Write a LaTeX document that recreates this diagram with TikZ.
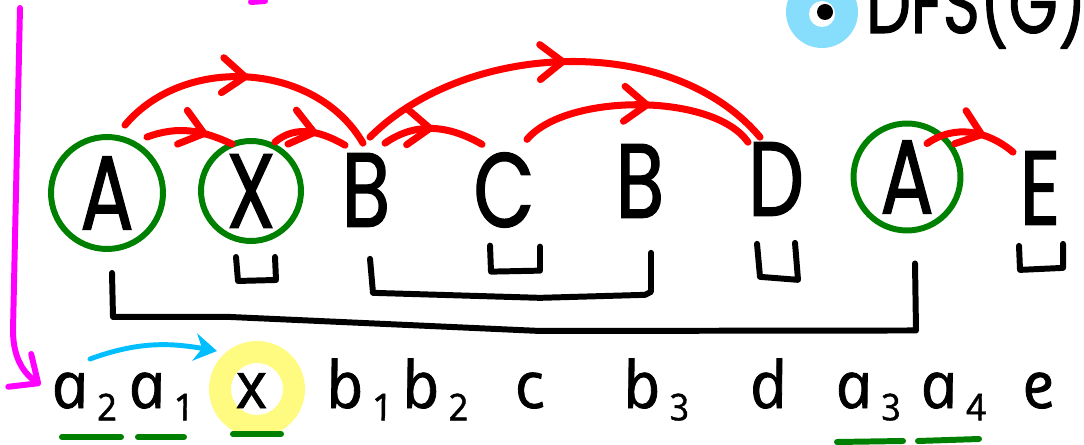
\documentclass[tikz,border=0pt]{standalone}
\usepackage{fontspec}
\newfontfamily\handcaps{Poppins}[FakeStretch=0.75, FakeBold=1.2]
\newfontfamily\handlow{Open Sans}[ItalicFeatures={FakeSlant=-0.2, FakeBold=1.2}]
\usepackage{tikz}
\usetikzlibrary{arrows.meta, decorations.markings}

\definecolor{rosso}{RGB}{255,0,0}
\definecolor{verde}{RGB}{0,128,0}
\definecolor{fucsia}{RGB}{255,0,255}
\definecolor{celeste}{RGB}{0,190,255}
\definecolor{azzurro}{RGB}{135,221,252}
\definecolor{giallo}{RGB}{255,250,128}

\newcommand{\capfont}{\handcaps\fontsize{60}{60}\selectfont}
\newcommand{\lowfont}{\handlow\itshape\fontsize{37}{37}\selectfont}
\newcommand{\pedice}[1]{\kern4pt\raisebox{-7pt}{\fontsize{21}{21}\selectfont #1}}

\begin{document}
\begin{tikzpicture}[x=0.02cm, y=-0.02cm,
  lettera/.style={font=\capfont, inner sep=1pt},
  cerchio/.style={lettera, circle, draw=verde, line width=3.4pt, inner sep=0pt, minimum size=#1},
  minuscola/.style={font=\lowfont, inner sep=0pt, anchor=base},
  arco/.style={rosso, line width=4pt, line cap=round, postaction={decorate},
    decoration={markings, mark=at position #1 with {\arrow{Straight Barb[length=4.5mm, width=7mm, round]}}}},
  tratto/.style={line width=3.4pt, line cap=round, line join=round},
  sotto/.style={verde, line width=3.4pt, line cap=round}]
  \useasboundingbox (0,0) rectangle (1084,445);
  \clip (0,0) rectangle (1084,445);

  % DFS
  \fill[azzurro] (822,12) circle (36);
  \fill[white] (822,14) circle (13);
  \fill (825,12) circle (8);
  \node[lettera, font=\handcaps\fontsize{48}{48}\selectfont, anchor=base west] (dfs) at (864,33) {DFS(G)};

  % lettere
  \node[cerchio=2.24cm] (nA1) at (107,193) {A};
  \node[cerchio=2cm] (nX) at (251,191) {X};
  \node[lettera] (nB1) at (366,190) {B};
  \node[lettera] (nC) at (504,190) {C};
  \node[lettera] (nB2) at (640,181) {B};
  \node[lettera] (nD) at (776,179) {D};
  \node[cerchio=2.14cm] (nA2) at (907,177) {A};
  \node[lettera] (nE) at (1040,188) {E};

  % archi
  \draw[arco=0.5] ([shift={(18,-9)}]nA1.north) to[out=50, in=120] ([shift={(-3,-8)}]nB1.north);
  \draw[arco=0.7] ([shift={(40,3)}]nA1.north) to[out=20, in=155] ([shift={(-19,6)}]nX.north);
  \draw[arco=0.6] ([shift={(24,4)}]nX.north) to[out=40, in=150] ([shift={(-21,-6)}]nB1.north);
  \draw[arco=0.5] ([shift={(4,-14)}]nB1.north) to[out=45, in=130, looseness=0.9] ([shift={(-16,-3)}]nD.north);
  \draw[arco=0.5] ([shift={(19,-8)}]nB1.north) to[out=35, in=150] ([shift={(-22,-6)}]nC.north);
  \draw[arco=0.55] ([shift={(23,-11)}]nC.north) to[out=50, in=125, looseness=0.7] ([shift={(-28,2)}]nD.north);
  \draw[arco=0.65] ([shift={(20,23)}]nA2.north) to[out=35, in=140] ([shift={(-27,3)}]nE.north);

  % parentesi
  \draw[tratto] ([shift={(5,21)}]nA1.south) -- ++(1,44) -- ++(117,0) -- ++(310,14)
    -- ([shift={(9,97)}]nA2.south) -- ([shift={(8,30)}]nA2.south);
  \draw[tratto] ([shift={(4,30)}]nB1.south) -- ++(3,34) -- ++(167,5) -- ++(105,-3)
    -- ([shift={(11,72)}]nB2.south) -- ([shift={(11,33)}]nB2.south);
  \draw[tratto] ([shift={(-15,13)}]nX.south) -- ++(2,24) -- ++(38,-1) -- ++(-1,-23);
  \draw[tratto] ([shift={(-14,16)}]nC.south) -- ++(1,26) -- ++(49,-1) -- ++(0,-24);
  \draw[tratto] ([shift={(-19,26)}]nD.south) -- ++(3,33) -- ++(38,3) -- ++(-3,-37);
  \draw[tratto] ([shift={(-21,19)}]nE.south) -- ++(1,24) -- ++(43,-2) -- ++(0,-24);

  % evidenziatore
  \draw[giallo, line width=0.44cm] (257,389) circle (37);

  % sequenza
  \node[minuscola] (la2) at (87,408) {a\pedice{2}};
  \node[minuscola] (la1) at (164,408) {a\pedice{1}};
  \node[minuscola] (lx) at (255,408) {x};
  \node[minuscola] (lb1) at (362,408) {b\pedice{1}};
  \node[minuscola] (lb2) at (438,408) {b\pedice{2}};
  \node[minuscola] (lc) at (533,408) {c};
  \node[minuscola] (lb3) at (659,408) {b\pedice{3}};
  \node[minuscola] (ld) at (772,408) {d};
  \node[minuscola] (la3) at (871,408) {a\pedice{3}};
  \node[minuscola] (la4) at (956,408) {a\pedice{4}};
  \node[minuscola] (le) at (1042,408) {e};

  % sottolineature
  \draw[sotto] ([shift={(-25,29)}]la2.base) -- ([shift={(34,29)}]la2.base);
  \draw[sotto] ([shift={(-26,29)}]la1.base) -- ([shift={(20,29)}]la1.base);
  \draw[sotto] ([shift={(-22,26)}]lx.base) -- ([shift={(26,26)}]lx.base);
  \draw[sotto] ([shift={(-34,34)}]la3.base) -- ([shift={(32,33)}]la3.base);
  \draw[sotto] ([shift={(-38,33)}]la4.base) -- ([shift={(23,31)}]la4.base);

  % frecce
  \draw[celeste, line width=2.8pt, line cap=round, -{Stealth[length=4.5mm, width=5.5mm]}]
    ([shift={(3,-49)}]la2.base) to[out=20, in=170] ([shift={(-38,-57)}]lx.base);
  \coordinate (mtop) at (20,8);
  \draw[fucsia, line width=3.4pt, line cap=round, -{Straight Barb[length=4.5mm, width=8mm, round]}]
    (mtop) -- (13,330) to[out=-90, in=145] ([shift={(-14,-23)}]la2.base west);
  \draw[fucsia, line width=3.4pt, line cap=round] (251,2) -- (265,1);
\end{tikzpicture}
\end{document}
